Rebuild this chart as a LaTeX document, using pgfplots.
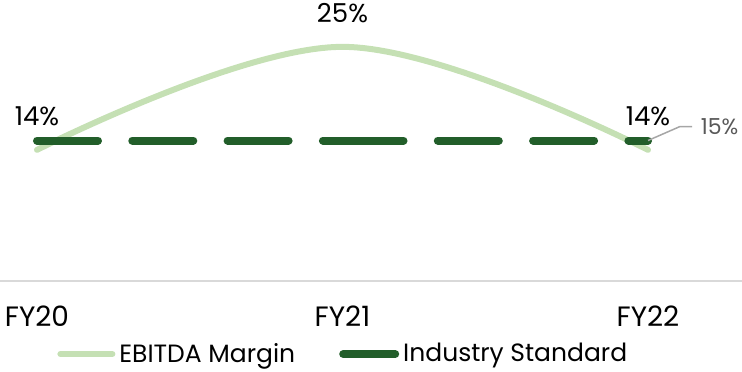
\documentclass[border=0pt]{standalone}
\usepackage{fontspec}
\setmainfont{Poppins}
\usepackage{pgfplots}
\pgfplotsset{compat=1.18}
\definecolor{lightg}{RGB}{197,224,180}
\definecolor{darkg}{RGB}{34,94,42}
\definecolor{lblgray}{RGB}{89,89,89}
\definecolor{leadgray}{RGB}{166,166,166}
\definecolor{basegray}{RGB}{217,217,217}
\begin{document}
\begin{tikzpicture}
\useasboundingbox (0pt,0pt) rectangle (371pt,185.5pt);
\begin{axis}[
  at={(0pt,45pt)}, anchor=south west, scale only axis,
  width=371pt, height=140.5pt,
  xmin=-0.1211, xmax=2.3077, ymin=0, ymax=30,
  axis y line=none, axis x line*=bottom,
  x axis line style={draw=basegray, line width=1pt},
  xtick={0,1,2}, xticklabels={FY20,FY21,FY22}, major tick length=0pt,
  xticklabel style={font=\fontsize{14}{16}\selectfont, text=black, yshift=-9pt},
  /pgf/number format/assume math mode=true,
  clip=false,
  legend style={at={(0.464,-0.26)}, anchor=center, draw=none, fill=none,
    legend columns=2, font=\fontsize{12.5}{15}\selectfont,
    /tikz/every even column/.append style={column sep=20pt}},
  legend image code/.code={\draw[#1, solid] (0pt,0pt) -- (26pt,0pt);},
]
\addplot[lightg, line width=3pt, smooth, tension=0.6, line cap=round,
  nodes near coords={\pgfmathprintnumber{\pgfplotspointmeta}\%},
  point meta=y,
  every node near coord/.append style={font=\fontsize{13}{15}\selectfont, text=black, yshift=7pt}]
  coordinates {(0,14) (1,25) (2,14)};
\addlegendentry{EBITDA Margin}
\addplot[darkg, line width=4pt, line cap=round, dash pattern=on 30.5pt off 17.15pt]
  coordinates {(0,15) (1,15)};
\addlegendentry{Industry Standard}
\addplot[darkg, line width=4pt, line cap=round, dash pattern=on 30.5pt off 17.15pt, forget plot]
  coordinates {(1,15) (2,15)};
\draw[leadgray, line width=0.75pt] (axis cs:2,15) -- ++(16pt,7pt) -- ++(6pt,0pt)
  node[right, inner sep=0pt, xshift=4pt, text=lblgray, font=\fontsize{11}{13}\selectfont] {15\%};
\end{axis}
\end{tikzpicture}
\end{document}
